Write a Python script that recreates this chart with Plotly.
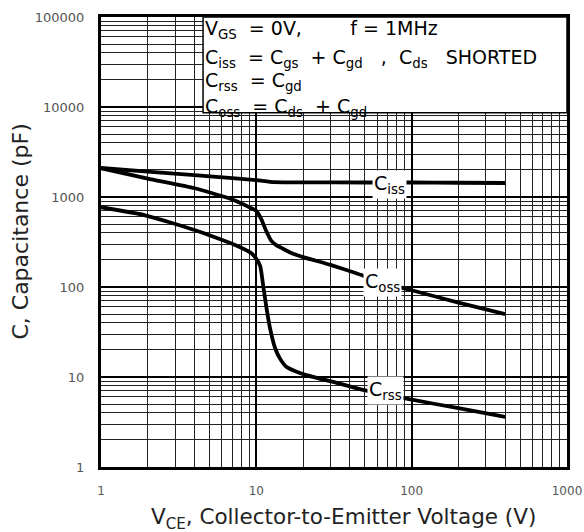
import numpy as np
import plotly.graph_objects as go

# ---- data ----
ciss_v = [1, 2, 4, 7, 10, 13, 20, 50, 100, 200, 400]
ciss_c = [2100, 1910, 1750, 1620, 1540, 1460, 1455, 1450, 1450, 1440, 1430]

coss_v = [1, 2, 4, 7, 9.3, 10, 10.8, 11.5, 12.5, 13.5, 14.5, 16.5, 20, 30, 44, 65, 100, 200, 400]
coss_c = [2090, 1600, 1250, 940, 750, 700, 560, 430, 325, 290, 272, 242, 215, 176, 142, 112, 92, 67, 50]

crss_v = [1, 1.9, 4, 7.3, 9.3, 10, 10.6, 11.1, 11.6, 12.2, 13.2, 14.2, 15.6, 18, 21, 34, 47, 68, 100, 200, 400]
crss_c = [770, 630, 430, 293, 237, 205, 170, 100, 60, 36, 21, 16, 13, 11.5, 10.5, 8.5, 7.3, 6.4, 5.6, 4.5, 3.6]

curve_labels = ["C<sub>iss</sub>", "C<sub>oss</sub>", "C<sub>rss</sub>"]
label_v = [72, 65, 68]
label_c = [1390, 111, 7.0]

x_ticks = [1, 10, 100, 1000]
x_ticktext = ["1", "10", "100", "1000"]
y_ticks = [1, 10, 100, 1000, 10000, 100000]
y_ticktext = ["1", "10", "100", "1000", "10000", "100000"]

S = "\u00a0"
legend_lines = [
    "V<sub>GS</sub>" + S * 2 + "=" + S + "0V," + S * 8 + "f = 1MHz",
    "C<sub>iss</sub>" + S * 2 + "=" + S + "C<sub>gs</sub>" + S * 2 + "+" + S + "C<sub>gd</sub>"
    + S * 3 + "," + S * 2 + "C<sub>ds</sub>" + S * 3 + "SHORTED",
    "C<sub>rss</sub>" + S * 2 + "=" + S + "C<sub>gd</sub>",
    "C<sub>oss</sub>" + S * 2 + "=" + S + "C<sub>ds</sub>" + S * 2 + "+" + S + "C<sub>gd</sub>",
]

FONT = "DejaVu Sans, Arial, sans-serif"

x_minor = [m * 10 ** d for d in range(0, 3) for m in range(2, 10)]
y_minor = [m * 10 ** d for d in range(0, 5) for m in range(2, 10)]

fig = go.Figure()
for xs, ys in [(ciss_v, ciss_c), (coss_v, coss_c), (crss_v, crss_c)]:
    fig.add_trace(go.Scatter(x=xs, y=ys, mode="lines",
                             line=dict(color="black", width=3.8, shape="spline", smoothing=0.5),
                             showlegend=False, hoverinfo="skip"))

axis_common = dict(
    type="log", showline=True, linewidth=3, linecolor="black", mirror=True,
    showgrid=True, gridcolor="black", gridwidth=1.6, zeroline=False, automargin=False,
    ticks="", ticklabeloverflow="allow",
)
fig.update_xaxes(**axis_common, range=[0, 3], tickvals=x_ticks, ticktext=x_ticktext,
                 ticklabelstandoff=11, tickfont=dict(family=FONT, size=12, color="#555"),
                 minor=dict(tickvals=x_minor, showgrid=True, gridcolor="#222", gridwidth=1))
fig.update_yaxes(**axis_common, range=[0, 5], tickvals=y_ticks, ticktext=y_ticktext,
                 ticklabelstandoff=11, tickfont=dict(family=FONT, size=13, color="#555"),
                 minor=dict(tickvals=y_minor, showgrid=True, gridcolor="#222", gridwidth=1))

annotations = []
for t, v, c in zip(curve_labels, label_v, label_c):
    annotations.append(dict(x=np.log10(v), y=np.log10(c), xref="x", yref="y", text=t,
                            showarrow=False, bgcolor="white", borderpad=1,
                            font=dict(family=FONT, size=19, color="black")))

# legend box text
line_y = [0.9725, 0.9085, 0.8565, 0.799]
for t, yy in zip(legend_lines, line_y):
    annotations.append(dict(x=0.219, y=yy, xref="paper", yref="paper", text=t,
                            xanchor="left", yanchor="middle", showarrow=False,
                            font=dict(family=FONT, size=19, color="black")))

annotations.append(dict(x=0.521, y=-0.114, xref="paper", yref="paper",
                        text="V<sub>CE</sub>, Collector-to-Emitter Voltage (V)",
                        showarrow=False, xanchor="center", yanchor="middle",
                        font=dict(family=FONT, size=21.5, color="#222")))
annotations.append(dict(x=-0.173, y=0.524, xref="paper", yref="paper",
                        text="C, Capacitance (pF)", textangle=-90,
                        showarrow=False, xanchor="center", yanchor="middle",
                        font=dict(family=FONT, size=22, color="#222")))

fig.update_layout(
    width=584, height=532, autosize=False,
    margin=dict(l=101, r=17, t=17, b=65),
    paper_bgcolor="white", plot_bgcolor="white",
    annotations=annotations,
    shapes=[dict(type="rect", xref="paper", yref="paper", x0=0.219, x1=1.0, y0=0.787, y1=1.0,
                 fillcolor="white", line=dict(color="black", width=1.5), layer="above")],
)

# remove the default page margin so the figure fills the 584x532 window exactly
fig.write_html("out.html", config={"displayModeBar": False},
               post_script="document.body.style.margin='0px';")
